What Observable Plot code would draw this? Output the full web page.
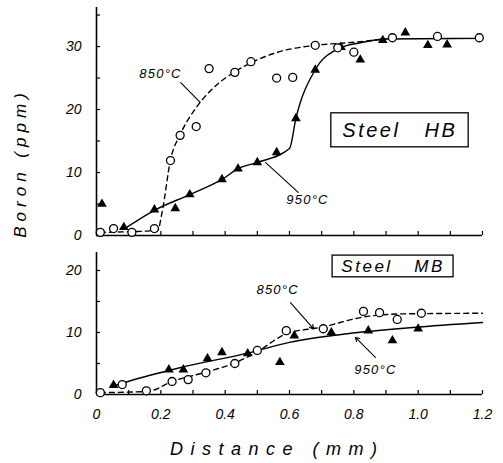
<!DOCTYPE html>
<html><head><meta charset="utf-8">
<script src="https://cdn.jsdelivr.net/npm/d3@7"></script>
<script src="https://cdn.jsdelivr.net/npm/@observablehq/plot@0.6"></script>
<style>
html,body{margin:0;padding:0;background:#fff;}
body{width:503px;height:463px;position:relative;overflow:hidden;font-family:"Liberation Sans",Arial,sans-serif;}
#top,#bot{position:absolute;left:0;}
#top{top:0;}
#bot{top:240px;}
.ytitle{position:absolute;left:21px;top:163px;transform:translate(-50%,-50%) rotate(-90deg);font-style:italic;font-size:17px;letter-spacing:5px;white-space:pre;color:#000;}
.xtitle{position:absolute;left:170px;top:439px;font-style:italic;font-size:18px;letter-spacing:7.5px;white-space:pre;color:#000;}
</style></head>
<body>
<div id="top"></div>
<div id="bot"></div>
<div class="ytitle">Boron (ppm)</div>
<div class="xtitle">Distance (mm)</div>
<script>
// ---- Steel HB (top panel) ----
const hb850X = [0.012,0.053,0.11,0.18,0.23,0.26,0.31,0.35,0.43,0.48,0.56,0.61,0.68,0.75,0.80,0.92,1.06,1.19];
const hb850Y = [0.5,1.1,0.5,1.1,11.9,15.9,17.3,26.5,25.9,27.6,25.0,25.1,30.2,29.8,29.1,31.4,31.6,31.4];
const hb950X = [0.017,0.085,0.18,0.245,0.29,0.39,0.44,0.50,0.56,0.62,0.68,0.76,0.82,0.89,0.96,1.03,1.09];
const hb950Y = [5.0,1.3,4.1,4.3,6.5,8.9,10.6,11.6,13.2,18.6,26.3,29.9,27.9,31.0,32.2,30.2,30.3];
const hb850CurveX = [0.012,0.19,0.205,0.23,0.26,0.31,0.365,0.44,0.50,0.57,0.68,0.78,0.90];
const hb850CurveY = [0.5,0.8,4.0,12.0,16.0,20.3,23.5,26.3,27.9,29.2,30.2,30.6,31.2];
const hb950CurveX = [0.085,0.18,0.29,0.39,0.44,0.50,0.60,0.62,0.68,0.75,0.82,0.90,1.20];
const hb950CurveY = [1.0,4.0,6.5,8.9,10.6,11.6,13.8,18.6,26.3,29.6,30.6,31.2,31.3];

// ---- Steel MB (bottom panel) ----
const mb850X = [0.012,0.08,0.155,0.235,0.285,0.34,0.43,0.50,0.59,0.705,0.83,0.88,0.935,1.01];
const mb850Y = [0.3,1.6,0.6,2.1,2.4,3.5,5.0,7.1,10.3,10.6,13.4,13.2,12.1,13.1];
const mb950X = [0.053,0.225,0.27,0.345,0.39,0.47,0.57,0.615,0.73,0.845,0.92,1.00];
const mb950Y = [1.5,4.0,4.0,5.8,6.8,6.6,5.2,9.5,10.0,10.3,8.7,10.6];
const mb850CurveX = [0.012,0.16,0.235,0.34,0.43,0.50,0.59,0.705,0.82,0.95,1.20];
const mb850CurveY = [0.3,0.5,2.1,3.6,5.1,6.9,9.8,10.9,12.4,13.0,13.1];
const mb950CurveX = [0.05,0.085,0.25,0.48,0.60,0.78,0.985,1.20];
const mb950CurveY = [1.3,1.9,4.2,6.8,8.4,9.8,10.8,11.6];

// ---- ticks ----
const xTicks = [0,0.1,0.2,0.3,0.4,0.5,0.6,0.7,0.8,0.9,1.0,1.1,1.2];
const xTickLabels = [0,0.2,0.4,0.6,0.8,1.0,1.2];
const hbYTicks = [0,5,10,15,20,25,30,35];
const hbYTickLabels = [0,10,20,30];
const mbYTicks = [0,5,10,15,20];
const mbYTickLabels = [0,10,20];

// ---- annotations (data units) ----
const hbLabels = [{t:"850°C", x:0.199, y:25.6}, {t:"950°C", x:0.656, y:5.6}];
const hbLeaders = [{x1:0.261,y1:24.3,x2:0.323,y2:21.1},{x1:0.628,y1:6.8,x2:0.525,y2:11.6}];
const hbBox = [{x1:0.73,x2:1.157,y1:14.0,y2:19.4,t:"Steel\u00a0\u00a0\u00a0HB",cx:0.943,cy:16.7}];
const mbLabels = [{t:"850°C", x:0.563, y:16.9}, {t:"950°C", x:0.867, y:3.9}];
const mbLeaders = [{x1:0.603,y1:14.8,x2:0.675,y2:10.6},{x1:0.867,y1:6.0,x2:0.805,y2:9.2}];
const mbBox = [{x1:0.734,x2:1.110,y1:18.9,y2:22.4,t:"Steel\u00a0\u00a0\u00a0MB",cx:0.922,cy:20.6}];

const zip = (xs, ys) => xs.map((x, i) => ({x, y: ys[i]}));
const fmtX = d => d === 0 ? "0" : d.toFixed(1);

function panel({height, marginTop, marginBottom, yMax, c850, l850, c950, l950, yTicks, yLabels, showX, labels, leaders, arrows, box, boxSize}) {
  const W = 503, ML = 96, MR = 21;
  const frameW = W - ML - MR, frameH = height - marginTop - marginBottom;
  const marks = [
    Plot.line(l850, {x:"x", y:"y", stroke:"#000", strokeWidth:1.4, strokeDasharray:"5,4", curve:"monotone-x"}),
    Plot.line(l950, {x:"x", y:"y", stroke:"#000", strokeWidth:1.4, curve:"monotone-x"}),
    Plot.ruleX([0], {stroke:"#000", strokeWidth:1.6}),
    Plot.ruleY([0], {stroke:"#000", strokeWidth:1.6}),
    Plot.tickX(xTicks, {x:d=>d, insetTop: frameH - 4, stroke:"#000", strokeWidth:1.2}),
    Plot.tickY(yTicks, {y:d=>d, insetRight: frameW - 4, stroke:"#000", strokeWidth:1.2}),
    Plot.axisY({ticks: yLabels, tickSize:0, tickPadding:15, fontSize:14, label:null}),
    leaders.length && !arrows ? Plot.link(leaders, {x1:"x1",y1:"y1",x2:"x2",y2:"y2", stroke:"#000", strokeWidth:1.1}) : null,
    arrows ? Plot.arrow(leaders, {x1:"x1",y1:"y1",x2:"x2",y2:"y2", stroke:"#000", strokeWidth:1.1, headLength:6, insetEnd:0}) : null,
    Plot.dot(c950, {x:"x", y:"y", symbol:"triangle", r:3.6, fill:"#000", stroke:"none"}),
    Plot.dot(c850, {x:"x", y:"y", symbol:"circle", r:4, fill:"#fff", stroke:"#000", strokeWidth:1.3}),
    Plot.rect(box, {x1:"x1", x2:"x2", y1:"y1", y2:"y2", fill:"#fff", stroke:"#000", strokeWidth:1.3}),
    Plot.text(box, {x:"cx", y:"cy", text:"t", fontSize:boxSize, fill:"#000"}),
    Plot.text(labels, {x:"x", y:"y", text:"t", fontSize:13, fill:"#000"})
  ];
  if (showX) marks.push(Plot.axisX({ticks: xTickLabels, tickSize:0, tickPadding:15, tickFormat: fmtX, fontSize:14, label:null}));
  else marks.push(Plot.axisX({ticks: [], label:null}));
  const svg = Plot.plot({
    width: W, height, marginLeft: ML, marginRight: MR, marginTop, marginBottom,
    x: {domain:[0,1.2]},
    y: {domain:[0,yMax]},
    style: {fontFamily:'"Liberation Sans", Arial, sans-serif', fontStyle:"italic", color:"#000", background:"#fff", overflow:"visible"},
    marks: marks.filter(Boolean)
  });
  d3.select(svg).selectAll("text").each(function() {
    const s = this.textContent;
    if (s.startsWith("Steel")) d3.select(this).attr("letter-spacing", "2.5");
    else if (s.includes("°C")) d3.select(this).attr("letter-spacing", "1.2");
  });
  return svg;
}

document.getElementById("top").appendChild(panel({
  height:240, marginTop:7, marginBottom:5, yMax:36.2,
  c850: zip(hb850X, hb850Y), l850: zip(hb850CurveX, hb850CurveY),
  c950: zip(hb950X, hb950Y), l950: zip(hb950CurveX, hb950CurveY),
  yTicks: hbYTicks, yLabels: hbYTickLabels, showX:false,
  labels: hbLabels, leaders: hbLeaders, arrows:false, box: hbBox, boxSize:20
}));
document.getElementById("bot").appendChild(panel({
  height:223, marginTop:12, marginBottom:69, yMax:22.9,
  c850: zip(mb850X, mb850Y), l850: zip(mb850CurveX, mb850CurveY),
  c950: zip(mb950X, mb950Y), l950: zip(mb950CurveX, mb950CurveY),
  yTicks: mbYTicks, yLabels: mbYTickLabels, showX:true,
  labels: mbLabels, leaders: mbLeaders, arrows:true, box: mbBox, boxSize:17
}));
</script>
</body></html>
